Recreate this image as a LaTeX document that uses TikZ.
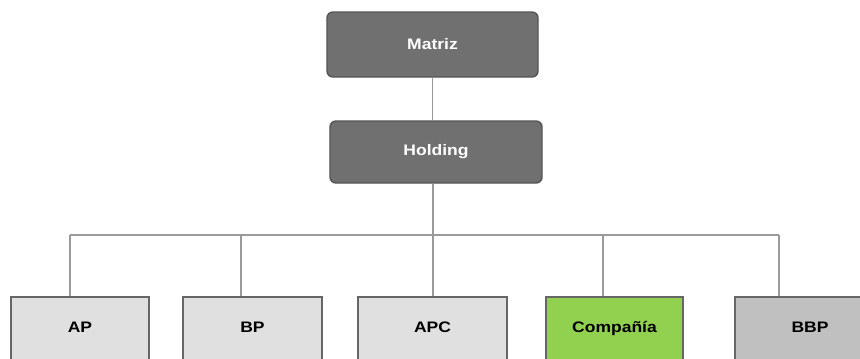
\documentclass[tikz,border=0pt]{standalone}
\usepackage{fontspec}
\newfontfamily\orgfont[FakeStretch=1.15]{Liberation Sans}
\usetikzlibrary{positioning}

\definecolor{darkbox}{HTML}{707070}
\definecolor{darkline}{HTML}{555555}
\definecolor{lightbox}{HTML}{E0E0E0}
\definecolor{greenbox}{HTML}{92D050}
\definecolor{greybox}{HTML}{C0C0C0}
\definecolor{linkgrey}{HTML}{9A9A9A}

\begin{document}
\begin{tikzpicture}[
        x=0.03cm, y=-0.03cm,
        font=\orgfont\fontsize{13pt}{15pt}\selectfont\bfseries,
        top/.style={rectangle, draw=darkline, line width=1.2pt, fill=darkbox, text=white, rounded corners=5pt, minimum height=1.9cm},
        unit/.style={rectangle, draw=darkline!90, line width=1pt, fill=lightbox, text=black, minimum height=2.1cm, text height=0.35cm, text depth=0.3cm},
        link/.style={draw=linkgrey, line width=1pt}
    ]
        \useasboundingbox (0,0) rectangle (860,358);
        \clip (0,0) rectangle (860,358);

        % Top of the chart
        \node [top, minimum width=6.33cm, minimum height=1.95cm] (matriz) at (432.5,44.5) {Matriz};
        \node [top, minimum width=6.36cm, minimum height=1.86cm] (holding) at (436,152) {Holding};

        % Companies on the bottom row (cut off at the lower edge)
        \node [unit, minimum width=4.14cm] (ap) at (80,332) {AP};
        \node [unit, minimum width=4.17cm] (bp) at (252.5,332) {BP};
        \node [unit, minimum width=4.47cm] (apc) at (432.5,332) {APC};
        \node [unit, minimum width=4.11cm, fill=greenbox] (comp) at (614.5,332) {Compañía};
        \node [unit, minimum width=4.5cm, fill=greybox] (bbp) at (810,332) {BBP};

        % Edges
        \coordinate (bus) at (433,235);
        \path [link] (matriz.south) -- (matriz.south |- holding.north);
        \path [link] (holding.south -| bus) -- (bus);
        \foreach \n/\x in {ap/70, bp/241, apc/433, comp/603, bbp/779} {
            \coordinate (d\n) at (\x,235);
            \path [link] (d\n) -- (d\n |- \n.north);
        }
        \path [link] (dap) -- (dbbp);
    \end{tikzpicture}
\end{document}
